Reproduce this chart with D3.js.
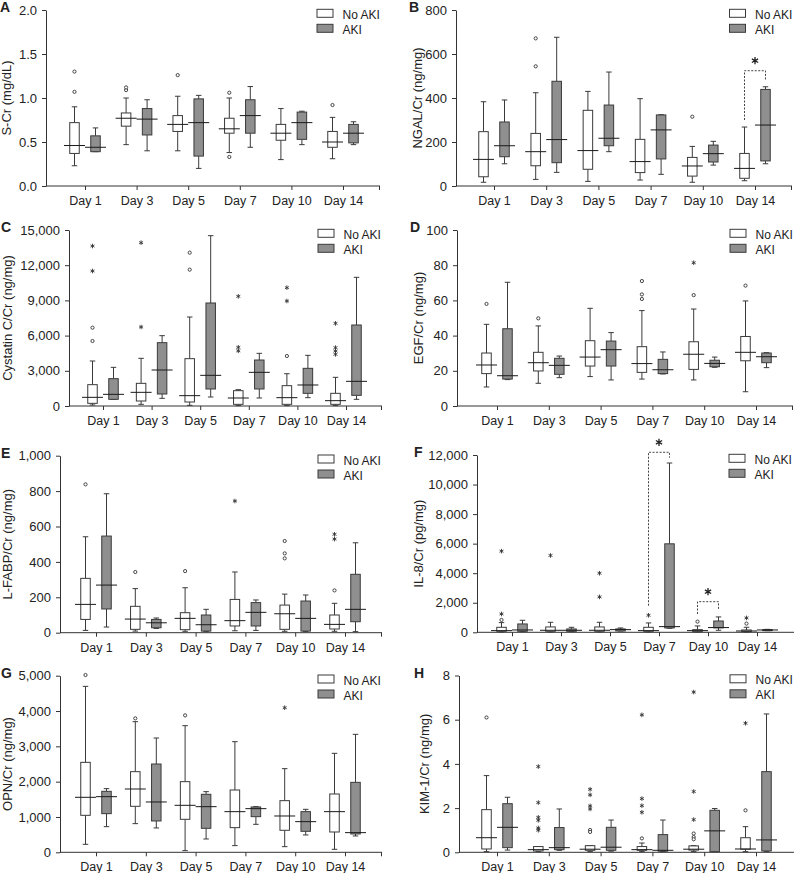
<!DOCTYPE html>
<html><head><meta charset="utf-8">
<script src="https://cdn.jsdelivr.net/npm/d3@7"></script>
<style>
body{margin:0;background:#fff}
svg{display:block}
text{font-family:"Liberation Sans",Arial,Helvetica,sans-serif;fill:#222}
</style></head>
<body><svg id="chart" width="794" height="873"></svg>
<script>
// ---------- DATA ----------
const days = ["Day 1","Day 3","Day 5","Day 7","Day 10","Day 14"];
const groups = ["No AKI","AKI"];
// boxes: [lower whisker, Q1, median, Q3, upper whisker]; outliers: [dayIndex, groupIndex, value]

// A  S-Cr (mg/dL)
const scrTicks = [0,0.5,1.0,1.5,2.0];
const scrNoAKI = [[0.23,0.37,0.46,0.72,0.90],[0.47,0.68,0.77,0.83,1.00],[0.40,0.62,0.70,0.80,1.02],[0.38,0.60,0.65,0.77,1.00],[0.30,0.52,0.60,0.70,0.88],[0.31,0.44,0.50,0.62,0.78]];
const scrAKI = [[0.39,0.39,0.44,0.57,0.66],[0.40,0.58,0.76,0.88,0.98],[0.20,0.34,0.72,0.99,1.03],[0.44,0.60,0.80,0.98,1.13],[0.47,0.53,0.72,0.84,0.85],[0.47,0.49,0.60,0.70,0.73]];
const scrCircles = [[0,0,1.07],[0,0,1.30],[1,0,1.09],[1,0,1.12],[2,0,1.26],[3,0,1.06],[3,0,0.33],[5,0,0.92]];
const scrStars = [];

// B  NGAL/Cr (ng/mg)
const ngalTicks = [0,200,400,600,800];
const ngalNoAKI = [[17,42,121,247,383],[30,92,156,239,424],[21,76,161,344,430],[27,61,111,212,397],[17,45,91,130,180],[24,35,80,148,268]];
const ngalAKI = [[101,133,183,291,391],[62,106,211,476,676],[156,183,217,368,518],[53,123,255,323,324],[95,109,147,186,203],[101,114,277,439,451]];
const ngalCircles = [[1,0,544],[1,0,671],[4,0,315]];
const ngalStars = [];
const ngalBrackets = [[5,300,524,482]]; // day, left end, top, right end

// C  Cystatin C/Cr (ng/mg)
const cysTicks = [0,3000,6000,9000,12000,15000];
const cysNoAKI = [[85,227,739,1818,3835],[142,426,1165,1932,4063],[57,341,881,4034,7585],[28,142,682,1307,1392],[30,142,710,1733,2750],[30,142,455,1080,2443]];
const cysAKI = [[568,568,994,2330,3295],[653,1023,3068,5398,5994],[767,1449,2614,8779,14517],[682,1449,2869,3920,4489],[710,1080,1790,3210,4318],[568,909,2102,6904,10966]];
const cysCircles = [[0,0,5540],[0,0,6676],[2,0,11620],[2,0,13068],[4,0,4262]];
const cysStars = [[0,0,11506],[0,0,13636],[1,0,6733],[1,0,13920],[3,0,9347],[3,0,5000],[3,0,4700],[4,0,8949],[4,0,10085],[5,0,7046],[5,0,4972],[5,0,4688],[5,0,4404]];

// D  EGF/Cr (ng/mg)
const egfTicks = [0,20,40,60,80,100];
const egfNoAKI = [[10.8,18.4,23.3,30.1,46.4],[12.9,19.9,24.6,30.5,45.5],[16.7,22.7,27.8,37.1,55.5],[15.3,19.1,24.1,33.7,54.2],[14.8,20.8,29.4,36.5,55.1],[8.1,25.7,30.5,39.5,59.7]];
const egfAKI = [[15,15.3,17.2,43.9,70.3],[16.1,18,23.1,27.1,28.4],[14.8,22.7,32,36.9,41.7],[18.2,18.4,20.6,26.5,30.7],[22,22.3,24.2,26,27.8],[21.8,24.6,28,30.1,30.3]];
const egfCircles = [[0,0,58],[1,0,49.8],[3,0,71],[3,0,63.4],[3,0,60.8],[4,0,63],[5,0,68.4]];
const egfStars = [[4,0,81.4]];

// E  L-FABP/Cr (ng/mg)
const lfabpTicks = [0,200,400,600,800,1000];
const lfabpNoAKI = [[13,75,160,307,542],[9,19,77,149,249],[8,17,81,113,254],[11,38,68,188,343],[8,19,107,156,218],[8,21,47,100,166]];
const lfabpAKI = [[32,134,269,546,785],[24,28,56,75,83],[6,9,45,100,132],[13,38,115,170,185],[6,9,81,179,213],[6,62,132,330,508]];
const lfabpCircles = [[0,0,838],[1,0,343],[2,0,348],[4,0,518],[4,0,448],[4,0,420],[5,0,239]];
const lfabpStars = [[3,0,744],[5,0,556],[5,0,529]];

// F  IL-8/Cr (pg/mg)
const il8Ticks = [0,2000,4000,6000,8000,10000,12000];
const il8NoAKI = [[20,68,113,339,655],[20,68,136,362,678],[20,68,136,362,678],[20,68,113,339,633],[20,45,113,181,429],[20,45,90,158,339]];
const il8AKI = [[45,68,158,565,814],[45,68,136,226,339],[90,90,181,226,294],[271,294,384,5989,11458],[136,300,320,765,1040],[110,113,158,181,200]];
const il8Circles = [[0,0,836],[4,0,723],[5,0,588]];
const il8Stars = [[0,0,1243],[0,0,5492],[1,0,5200],[2,0,2396],[2,0,4000],[3,0,1153],[5,0,972]];
const il8Brackets = [[3,1800,12183,11817],[4,1239,2072,1577]];

// G  OPN/Cr (ng/mg)
const opnTicks = [0,1000,2000,3000,4000,5000];
const opnNoAKI = [[226,1047,1557,2547,4698],[811,1302,1792,2283,3698],[47,934,1330,2000,3585],[189,698,1151,1764,3132],[160,623,1028,1462,2368],[85,575,1151,1651,2802]];
const opnAKI = [[726,1094,1575,1726,1802],[689,887,1425,2500,3236],[377,679,1292,1642,1717],[792,1009,1236,1283,1292],[491,594,868,1151,1217],[462,519,557,1981,3340]];
const opnCircles = [[0,0,5019],[1,0,3792],[2,0,3877]];
const opnStars = [[4,0,4094]];

// H  KIM-1/Cr (ng/mg)
const kimTicks = [0,2,4,6,8];
const kimNoAKI = [[0.03,0.15,0.66,1.93,3.47],[0.03,0.06,0.12,0.26,0.26],[0.03,0.09,0.14,0.30,0.30],[0.03,0.09,0.12,0.26,0.42],[0.03,0.10,0.14,0.29,0.30],[0.03,0.14,0.15,0.66,1.16]];
const kimAKI = [[0.10,0.21,1.13,2.20,2.49],[0.09,0.12,0.21,1.12,1.96],[0.05,0.09,0.23,1.13,1.46],[0.03,0.05,0.09,0.80,1.46],[0.03,0.03,0.97,1.90,1.98],[0.03,0.06,0.56,3.65,6.26]];
const kimCircles = [[0,0,6.1],[2,0,1.01],[2,0,0.92],[3,0,0.63],[4,0,0.85],[4,0,0.69],[4,0,0.59],[5,0,1.9]];
const kimStars = [[1,0,3.88],[1,0,2.25],[1,0,1.58],[1,0,1.45],[1,0,1.10],[1,0,1.00],[2,0,2.85],[2,0,2.60],[2,0,2.10],[2,0,1.96],[3,0,6.22],[3,0,2.43],[3,0,2.11],[3,0,1.81],[4,0,7.25],[4,0,2.75],[4,0,1.48],[5,0,5.84]];

// ---------- LAYOUT ----------
const panels = [
 {letter:"A", title:"S-Cr (mg/dL)", ticks:scrTicks, fmt:d3.format(".1f"), no:scrNoAKI, aki:scrAKI, circles:scrCircles, stars:scrStars, brackets:[],
  x0:46, x1:380, first:85, last:343, yTop:10, yBot:186, titleX:6, letterX:0, legX:317},
 {letter:"B", title:"NGAL/Cr (ng/mg)", ticks:ngalTicks, fmt:d3.format(","), no:ngalNoAKI, aki:ngalAKI, circles:ngalCircles, stars:ngalStars, brackets:ngalBrackets,
  x0:456, x1:792, first:494, last:755, yTop:10, yBot:186, titleX:417, letterX:409, legX:729.5},
 {letter:"C", title:"Cystatin C/Cr (ng/mg)", ticks:cysTicks, fmt:d3.format(","), no:cysNoAKI, aki:cysAKI, circles:cysCircles, stars:cysStars, brackets:[],
  x0:69, x1:382, first:103, last:346, yTop:230, yBot:406, titleX:7.5, letterX:1, legX:318},
 {letter:"D", title:"EGF/Cr (ng/mg)", ticks:egfTicks, fmt:d3.format(","), no:egfNoAKI, aki:egfAKI, circles:egfCircles, stars:egfStars, brackets:[],
  x0:457, x1:793, first:497, last:756, yTop:230, yBot:406, titleX:418, letterX:410, legX:730},
 {letter:"E", title:"L-FABP/Cr (ng/mg)", ticks:lfabpTicks, fmt:d3.format(","), no:lfabpNoAKI, aki:lfabpAKI, circles:lfabpCircles, stars:lfabpStars, brackets:[],
  x0:60, x1:382, first:96, last:345, yTop:455.7, yBot:632.7, titleX:7.5, letterX:1, legX:318},
 {letter:"F", title:"IL-8/Cr (pg/mg)", ticks:il8Ticks, fmt:d3.format(","), no:il8NoAKI, aki:il8AKI, circles:il8Circles, stars:il8Stars, brackets:il8Brackets,
  x0:477, x1:796, first:512, last:757, yTop:455, yBot:632.3, titleX:418, letterX:414, legX:729},
 {letter:"G", title:"OPN/Cr (ng/mg)", ticks:opnTicks, fmt:d3.format(","), no:opnNoAKI, aki:opnAKI, circles:opnCircles, stars:opnStars, brackets:[],
  x0:60, x1:382, first:96, last:345, yTop:675.7, yBot:852.3, titleX:7.5, letterX:1, legX:318},
 {letter:"H", title:"KIM-1/Cr (ng/mg)", ticks:kimTicks, fmt:d3.format(","), no:kimNoAKI, aki:kimAKI, circles:kimCircles, stars:kimStars, brackets:[],
  x0:459, x1:796, first:497, last:756, yTop:675.5, yBot:852.3, titleX:424, letterX:414, legX:730}
];

const AXIS = "#333", BOXSTROKE = "#3a3a3a", AKIFILL = "#8f8f8f";
const OFF = 10.5, BW = 9.5, MW = 21, CAP = 5.5;

// asterisk path (6 arms) of radius r centred at (0,0)
function asterisk(r) {
  let d = "";
  for (let k = 0; k < 3; k++) {
    const a = Math.PI / 2 + k * Math.PI / 3;
    const dx = r * Math.cos(a), dy = r * Math.sin(a);
    d += `M${-dx},${-dy}L${dx},${dy}`;
  }
  return d;
}

const svg = d3.select("#chart");

panels.forEach(p => {
  const g = svg.append("g");
  const y = d3.scaleLinear().domain([p.ticks[0], p.ticks[p.ticks.length-1]]).range([p.yBot, p.yTop]);
  const x = d3.scalePoint().domain(days).range([p.first, p.last]);
  const gx = (di, gi) => x(days[di]) + (gi === 0 ? -OFF : OFF);

  // y axis
  const ya = g.append("g").attr("transform", `translate(${p.x0},0)`)
    .call(d3.axisLeft(y).tickValues(p.ticks).tickFormat(p.fmt).tickSize(4).tickSizeOuter(0).tickPadding(5));
  ya.selectAll("path,line").attr("stroke", AXIS);
  ya.selectAll("text").attr("font-size", 13).attr("fill", "#222").style("font-family", '"Liberation Sans",Arial,sans-serif');

  // x axis
  const xa = g.append("g").attr("transform", `translate(0,${p.yBot})`)
    .call(d3.axisBottom(x).tickSize(4).tickSizeOuter(0).tickPadding(6));
  xa.select(".domain").remove();
  xa.selectAll("line").attr("stroke", AXIS);
  xa.selectAll("text").attr("font-size", 12.5).attr("fill", "#222").style("font-family", '"Liberation Sans",Arial,sans-serif');
  g.append("line").attr("x1", p.x0).attr("x2", p.x1).attr("y1", p.yBot).attr("y2", p.yBot).attr("stroke", AXIS);
  g.append("line").attr("x1", p.x1 - 0.5).attr("x2", p.x1 - 0.5).attr("y1", p.yBot).attr("y2", p.yBot + 4).attr("stroke", AXIS);

  // y title
  g.append("text").attr("transform", `translate(${p.titleX},${(p.yTop + p.yBot)/2}) rotate(-90)`)
    .attr("text-anchor", "middle").attr("dy", "0.35em").attr("font-size", 13).text(p.title);

  // panel letter
  g.append("text").attr("x", p.letterX).attr("y", p.yTop + 2).attr("font-size", 14).attr("font-weight", "bold").text(p.letter);

  // boxes
  [p.no, p.aki].forEach((arr, gi) => {
    arr.forEach((b, di) => {
      const cx = gx(di, gi);
      const [lw, q1, md, q3, uw] = b;
      const bg = g.append("g");
      bg.append("line").attr("x1", cx).attr("x2", cx).attr("y1", y(q3)).attr("y2", y(uw)).attr("stroke", BOXSTROKE);
      bg.append("line").attr("x1", cx).attr("x2", cx).attr("y1", y(q1)).attr("y2", y(lw)).attr("stroke", BOXSTROKE);
      bg.append("line").attr("x1", cx - CAP/2).attr("x2", cx + CAP/2).attr("y1", y(uw)).attr("y2", y(uw)).attr("stroke", BOXSTROKE);
      bg.append("line").attr("x1", cx - CAP/2).attr("x2", cx + CAP/2).attr("y1", y(lw)).attr("y2", y(lw)).attr("stroke", BOXSTROKE);
      bg.append("rect").attr("x", cx - BW/2).attr("width", BW).attr("y", y(q3)).attr("height", Math.max(0.5, y(q1) - y(q3)))
        .attr("fill", gi === 0 ? "#fff" : AKIFILL).attr("stroke", BOXSTROKE);
      bg.append("line").attr("x1", cx - MW/2).attr("x2", cx + MW/2).attr("y1", y(md)).attr("y2", y(md)).attr("stroke", "#1a1a1a");
    });
  });

  // outliers
  g.selectAll(".circ").data(p.circles).enter().append("circle")
    .attr("cx", d => gx(d[0], d[1])).attr("cy", d => y(d[2])).attr("r", 1.6)
    .attr("fill", "#fff").attr("stroke", "#333").attr("stroke-width", 0.9);
  g.selectAll(".star").data(p.stars).enter().append("path")
    .attr("transform", d => `translate(${gx(d[0], d[1])},${y(d[2])})`)
    .attr("d", asterisk(2.3)).attr("stroke", "#333").attr("stroke-width", 0.9).attr("fill", "none");

  // significance brackets
  p.brackets.forEach(br => {
    const [di, lv, tv, rv] = br;
    const xl = gx(di, 0), xr = gx(di, 1);
    g.append("path").attr("d", `M${xl},${y(lv)}V${y(tv)}H${xr}V${y(rv)}`)
      .attr("fill", "none").attr("stroke", "#444").attr("stroke-dasharray", "2,1.5");
    g.append("path").attr("transform", `translate(${(xl + xr)/2},${y(tv) - 10})`)
      .attr("d", asterisk(3.6)).attr("stroke", "#222").attr("stroke-width", 1.3).attr("fill", "none");
  });

  // legend
  const lg = g.append("g");
  groups.forEach((name, gi) => {
    const ly = p.yTop - 0.7 + gi * 15;
    lg.append("rect").attr("x", p.legX).attr("y", ly).attr("width", 16).attr("height", 8)
      .attr("fill", gi === 0 ? "#fff" : AKIFILL).attr("stroke", BOXSTROKE);
    lg.append("text").attr("x", p.legX + 25.5).attr("y", ly + 9.6).attr("font-size", 12).text(name);
  });
});
</script></body></html>
